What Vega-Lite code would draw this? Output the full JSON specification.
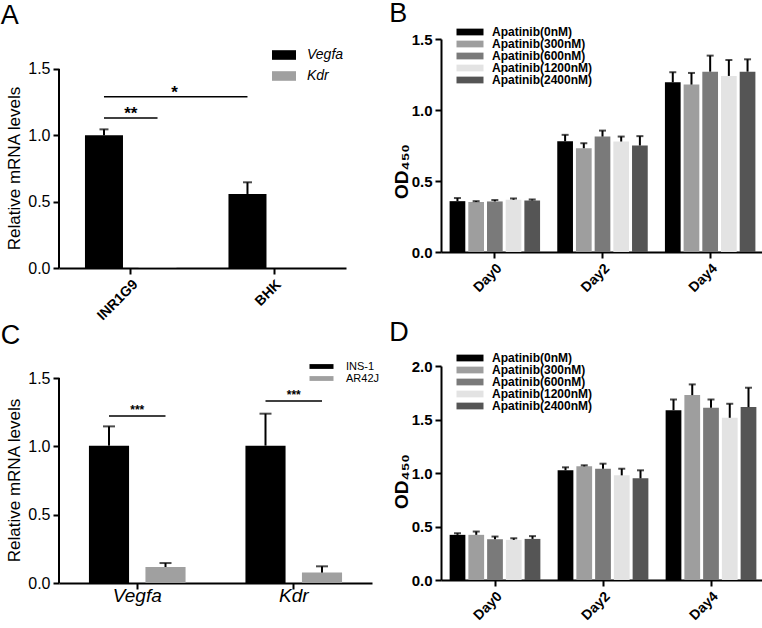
{
  "$schema": "https://vega.github.io/schema/vega-lite/v6.json",
  "background": "white",
  "padding": {"left": 0, "top": 0, "right": 0, "bottom": 0},
  "config": {
    "font": "Liberation Sans",
    "view": {"stroke": null},
    "axis": {"domainColor": "black", "domainWidth": 2, "tickColor": "black", "tickWidth": 2, "tickSize": 6, "labelColor": "black", "titleColor": "black", "grid": false, "labelFont": "Liberation Sans", "titleFont": "Liberation Sans", "labelFontSize": 16, "titleFontSize": 17, "titleFontWeight": "normal", "labelPadding": 3},
    "title": {"fontSize": 27, "fontWeight": "normal", "anchor": "start", "font": "Liberation Sans", "color": "black", "frame": "bounds"},
    "legend": {"title": null, "labelColor": "black", "labelFont": "Liberation Sans", "symbolStrokeWidth": 0}
  },
  "align": "none",
  "resolve": {"scale": {"color": "independent", "xOffset": "independent", "x": "independent", "y": "independent"}, "legend": {"color": "independent"}},
  "spacing": 9,
  "hconcat": [
    {
      "spacing": -1,
      "align": "none",
      "resolve": {"scale": {"color": "independent", "xOffset": "independent", "x": "independent", "y": "independent"}, "legend": {"color": "independent"}},
      "vconcat": [
        {
          "width": 287, "height": 229,
          "title": {"text": "A", "offset": 9, "dx": -5},
          "data": {"values": [
            {"cell": "INR1G9", "gene": "Vegfa", "v": 1.0, "e": 1.045},
            {"cell": "INR1G9", "gene": "Kdr", "v": 0.006, "e": null},
            {"cell": "BHK", "gene": "Vegfa", "v": 0.558, "e": 0.646},
            {"cell": "BHK", "gene": "Kdr", "v": 0.0, "e": null}
          ]},
          "encoding": {
            "x": {"field": "cell", "type": "nominal", "sort": ["INR1G9", "BHK"], "scale": {"paddingInner": 0, "paddingOuter": 0}, "axis": {"title": null, "labelAngle": -45, "labelFontWeight": "bold", "labelFontSize": 14, "labelAlign": "right", "labelBaseline": "top"}},
            "xOffset": {"field": "gene", "type": "nominal", "sort": ["Vegfa", "Kdr"], "scale": {"domain": ["Vegfa", "Kdr"], "paddingInner": 0.29, "paddingOuter": 0.485}}
          },
          "layer": [
            {
              "mark": {"type": "bar"},
              "encoding": {
                "y": {"field": "v", "type": "quantitative", "scale": {"domain": [0, 1.7261], "nice": false}, "axis": {"title": "Relative mRNA levels", "titleY": 129, "domain": false, "values": [0, 0.5, 1, 1.5], "format": ".1f"}},
                "color": {"field": "gene", "type": "nominal", "scale": {"domain": ["Vegfa", "Kdr"], "range": ["#000000", "#a0a0a0"]}, "legend": {"orient": "none", "legendX": 218, "legendY": 9, "labelFontStyle": "italic", "labelFontSize": 14, "symbolType": "M-3,-1.2H3V1.2H-3Z", "symbolSize": 64, "rowPadding": 7, "labelOffset": 16}}
              }
            },
            {
              "data": {"values": [{"lo": 0, "hi": 1.5}]},
              "mark": {"type": "rule", "color": "black", "strokeWidth": 2},
              "encoding": {"x": {"datum": "INR1G9", "type": "nominal", "bandPosition": 0}, "xOffset": null, "y": {"field": "lo", "type": "quantitative"}, "y2": {"field": "hi"}}
            },
            {
              "transform": [{"filter": "datum.e != null"}],
              "mark": {"type": "rule", "color": "black", "strokeWidth": 2},
              "encoding": {"y": {"field": "v", "type": "quantitative"}, "y2": {"field": "e"}}
            },
            {
              "transform": [{"filter": "datum.e != null"}],
              "mark": {"type": "tick", "color": "black", "thickness": 2, "size": 9},
              "encoding": {"y": {"field": "e", "type": "quantitative"}}
            },
            {
              "data": {"values": [
                {"id": "s1", "cell": "INR1G9", "gene": "Vegfa", "y": 1.13},
                {"id": "s1", "cell": "INR1G9", "gene": "Kdr", "y": 1.13},
                {"id": "s2", "cell": "INR1G9", "gene": "Vegfa", "y": 1.29},
                {"id": "s2", "cell": "BHK", "gene": "Vegfa", "y": 1.29}
              ]},
              "mark": {"type": "line", "color": "black", "strokeWidth": 1.5},
              "encoding": {"y": {"field": "y", "type": "quantitative"}, "detail": {"field": "id"}}
            },
            {
              "data": {"values": [{"cell": "INR1G9", "y": 1.13, "t": "**"}]},
              "mark": {"type": "text", "fontSize": 17, "fontWeight": "bold", "baseline": "alphabetic", "color": "black", "dy": 1},
              "encoding": {"x": {"field": "cell", "type": "nominal"}, "xOffset": null, "y": {"field": "y", "type": "quantitative"}, "text": {"field": "t"}}
            },
            {
              "data": {"values": [{"cell": "BHK", "y": 1.29, "t": "*"}]},
              "mark": {"type": "text", "fontSize": 17, "fontWeight": "bold", "baseline": "alphabetic", "color": "black", "dx": -28, "dy": 1},
              "encoding": {"x": {"field": "cell", "type": "nominal", "bandPosition": 0}, "xOffset": null, "y": {"field": "y", "type": "quantitative"}, "text": {"field": "t"}}
            }
          ]
        },
        {
          "width": 313, "height": 215,
          "title": {"text": "C", "offset": 11, "dx": -5},
          "data": {"values": [
            {"gene": "Vegfa", "cell": "INS-1", "v": 1.005, "e": 1.146},
            {"gene": "Vegfa", "cell": "AR42J", "v": 0.117, "e": 0.146},
            {"gene": "Kdr", "cell": "INS-1", "v": 1.005, "e": 1.239},
            {"gene": "Kdr", "cell": "AR42J", "v": 0.076, "e": 0.122}
          ]},
          "encoding": {
            "x": {"field": "gene", "type": "nominal", "sort": ["Vegfa", "Kdr"], "scale": {"paddingInner": 0, "paddingOuter": 0}, "axis": {"title": null, "labelAngle": 0, "labelFontStyle": "italic", "labelFontSize": 19, "labelPadding": -3}},
            "xOffset": {"field": "cell", "type": "nominal", "sort": ["INS-1", "AR42J"], "scale": {"domain": ["INS-1", "AR42J"], "paddingInner": 0.29, "paddingOuter": 0.53}}
          },
          "layer": [
            {
              "mark": {"type": "bar"},
              "encoding": {
                "y": {"field": "v", "type": "quantitative", "scale": {"domain": [0, 1.5732], "nice": false}, "axis": {"title": "Relative mRNA levels", "titleY": 112, "domain": false, "values": [0, 0.5, 1, 1.5], "format": ".1f"}},
                "color": {"field": "cell", "type": "nominal", "scale": {"domain": ["INS-1", "AR42J"], "range": ["#000000", "#a0a0a0"]}, "legend": {"orient": "none", "legendX": 257, "legendY": -7, "labelFontSize": 11, "symbolType": "M-3,-0.6H3V0.6H-3Z", "symbolSize": 64, "rowPadding": 0, "labelOffset": 19}}
              }
            },
            {
              "data": {"values": [{"lo": 0, "hi": 1.5}]},
              "mark": {"type": "rule", "color": "black", "strokeWidth": 2},
              "encoding": {"x": {"datum": "Vegfa", "type": "nominal", "bandPosition": 0}, "xOffset": null, "y": {"field": "lo", "type": "quantitative"}, "y2": {"field": "hi"}}
            },
            {
              "mark": {"type": "rule", "color": "black", "strokeWidth": 2},
              "encoding": {"y": {"field": "v", "type": "quantitative"}, "y2": {"field": "e"}}
            },
            {
              "mark": {"type": "tick", "color": "black", "thickness": 2, "size": 12},
              "encoding": {"y": {"field": "e", "type": "quantitative"}}
            },
            {
              "data": {"values": [
                {"id": "s1", "gene": "Vegfa", "cell": "INS-1", "y": 1.222},
                {"id": "s1", "gene": "Vegfa", "cell": "AR42J", "y": 1.222},
                {"id": "s2", "gene": "Kdr", "cell": "INS-1", "y": 1.331},
                {"id": "s2", "gene": "Kdr", "cell": "AR42J", "y": 1.331}
              ]},
              "mark": {"type": "line", "color": "black", "strokeWidth": 1.5},
              "encoding": {"y": {"field": "y", "type": "quantitative"}, "detail": {"field": "id"}}
            },
            {
              "data": {"values": [{"gene": "Vegfa", "y": 1.222, "t": "***"}, {"gene": "Kdr", "y": 1.331, "t": "***"}]},
              "mark": {"type": "text", "fontSize": 12, "fontWeight": "bold", "baseline": "alphabetic", "color": "black", "dy": -2},
              "encoding": {"xOffset": null, "y": {"field": "y", "type": "quantitative"}, "text": {"field": "t"}}
            }
          ]
        }
      ]
    },
    {
      "spacing": 24,
      "align": "none",
      "resolve": {"scale": {"color": "independent", "xOffset": "independent", "x": "independent", "y": "independent"}, "legend": {"color": "independent"}},
      "vconcat": [
        {
          "width": 323, "height": 213,
          "title": {"text": "B", "offset": -2, "dx": -3},
          "data": {"values": [
            {"day": "Day0", "c": "Apatinib(0nM)", "v": 0.358, "e": 0.38},
            {"day": "Day0", "c": "Apatinib(300nM)", "v": 0.352, "e": 0.358},
            {"day": "Day0", "c": "Apatinib(600nM)", "v": 0.356, "e": 0.366},
            {"day": "Day0", "c": "Apatinib(1200nM)", "v": 0.368, "e": 0.377},
            {"day": "Day0", "c": "Apatinib(2400nM)", "v": 0.363, "e": 0.37},
            {"day": "Day2", "c": "Apatinib(0nM)", "v": 0.78, "e": 0.825},
            {"day": "Day2", "c": "Apatinib(300nM)", "v": 0.731, "e": 0.766},
            {"day": "Day2", "c": "Apatinib(600nM)", "v": 0.813, "e": 0.855},
            {"day": "Day2", "c": "Apatinib(1200nM)", "v": 0.778, "e": 0.813},
            {"day": "Day2", "c": "Apatinib(2400nM)", "v": 0.75, "e": 0.816},
            {"day": "Day4", "c": "Apatinib(0nM)", "v": 1.195, "e": 1.266},
            {"day": "Day4", "c": "Apatinib(300nM)", "v": 1.179, "e": 1.261},
            {"day": "Day4", "c": "Apatinib(600nM)", "v": 1.27, "e": 1.383},
            {"day": "Day4", "c": "Apatinib(1200nM)", "v": 1.24, "e": 1.352},
            {"day": "Day4", "c": "Apatinib(2400nM)", "v": 1.27, "e": 1.357}
          ]},
          "encoding": {
            "x": {"field": "day", "type": "nominal", "scale": {"paddingInner": 0, "paddingOuter": 0}, "axis": {"title": null, "labelAngle": -45, "labelFontWeight": "bold", "labelFontSize": 14, "labelAlign": "right", "labelBaseline": "top"}},
            "xOffset": {"field": "c", "type": "nominal", "sort": ["Apatinib(0nM)", "Apatinib(300nM)", "Apatinib(600nM)", "Apatinib(1200nM)", "Apatinib(2400nM)"], "scale": {"domain": ["Apatinib(0nM)", "Apatinib(300nM)", "Apatinib(600nM)", "Apatinib(1200nM)", "Apatinib(2400nM)"], "paddingInner": 0.16, "paddingOuter": 0.46}}
          },
          "layer": [
            {
              "mark": {"type": "bar"},
              "encoding": {
                "y": {"field": "v", "type": "quantitative", "scale": {"domain": [0, 1.5], "nice": false}, "axis": {"title": "OD₄₅₀", "titleY": 132, "titlePadding": 0, "titleFontWeight": "bold", "titleFontSize": 19, "labelFontWeight": "bold", "labelFontSize": 15, "values": [0, 0.5, 1, 1.5], "format": ".1f"}},
                "color": {"field": "c", "type": "nominal", "scale": {"domain": ["Apatinib(0nM)", "Apatinib(300nM)", "Apatinib(600nM)", "Apatinib(1200nM)", "Apatinib(2400nM)"], "range": ["#000000", "#9e9e9e", "#7a7a7a", "#e3e3e3", "#555555"]}, "legend": {"orient": "none", "legendX": 23, "legendY": -13, "labelFontSize": 12, "labelFontWeight": "bold", "symbolType": "M-3,-0.75H3V0.75H-3Z", "symbolSize": 81, "rowPadding": 0, "labelOffset": 16}}
              }
            },
            {
              "mark": {"type": "rule", "color": "black", "strokeWidth": 2},
              "encoding": {"y": {"field": "v", "type": "quantitative"}, "y2": {"field": "e"}}
            },
            {
              "mark": {"type": "tick", "color": "black", "thickness": 2, "size": 7},
              "encoding": {"y": {"field": "e", "type": "quantitative"}}
            }
          ]
        },
        {
          "width": 324, "height": 214,
          "title": {"text": "D", "offset": 5, "dx": -3},
          "data": {"values": [
            {"day": "Day0", "c": "Apatinib(0nM)", "v": 0.422, "e": 0.437},
            {"day": "Day0", "c": "Apatinib(300nM)", "v": 0.422, "e": 0.453},
            {"day": "Day0", "c": "Apatinib(600nM)", "v": 0.381, "e": 0.406},
            {"day": "Day0", "c": "Apatinib(1200nM)", "v": 0.375, "e": 0.39},
            {"day": "Day0", "c": "Apatinib(2400nM)", "v": 0.384, "e": 0.41},
            {"day": "Day2", "c": "Apatinib(0nM)", "v": 1.025, "e": 1.053},
            {"day": "Day2", "c": "Apatinib(300nM)", "v": 1.062, "e": 1.072},
            {"day": "Day2", "c": "Apatinib(600nM)", "v": 1.04, "e": 1.087},
            {"day": "Day2", "c": "Apatinib(1200nM)", "v": 0.978, "e": 1.04},
            {"day": "Day2", "c": "Apatinib(2400nM)", "v": 0.95, "e": 1.025},
            {"day": "Day4", "c": "Apatinib(0nM)", "v": 1.587, "e": 1.687},
            {"day": "Day4", "c": "Apatinib(300nM)", "v": 1.728, "e": 1.828},
            {"day": "Day4", "c": "Apatinib(600nM)", "v": 1.61, "e": 1.687},
            {"day": "Day4", "c": "Apatinib(1200nM)", "v": 1.516, "e": 1.647},
            {"day": "Day4", "c": "Apatinib(2400nM)", "v": 1.616, "e": 1.797}
          ]},
          "encoding": {
            "x": {"field": "day", "type": "nominal", "scale": {"paddingInner": 0, "paddingOuter": 0}, "axis": {"title": null, "labelAngle": -45, "labelFontWeight": "bold", "labelFontSize": 14, "labelAlign": "right", "labelBaseline": "top"}},
            "xOffset": {"field": "c", "type": "nominal", "sort": ["Apatinib(0nM)", "Apatinib(300nM)", "Apatinib(600nM)", "Apatinib(1200nM)", "Apatinib(2400nM)"], "scale": {"domain": ["Apatinib(0nM)", "Apatinib(300nM)", "Apatinib(600nM)", "Apatinib(1200nM)", "Apatinib(2400nM)"], "paddingInner": 0.16, "paddingOuter": 0.46}}
          },
          "layer": [
            {
              "mark": {"type": "bar"},
              "encoding": {
                "y": {"field": "v", "type": "quantitative", "scale": {"domain": [0, 2], "nice": false}, "axis": {"title": "OD₄₅₀", "titleY": 115, "titlePadding": 0, "titleFontWeight": "bold", "titleFontSize": 19, "labelFontWeight": "bold", "labelFontSize": 15, "values": [0, 0.5, 1, 1.5, 2], "format": ".1f"}},
                "color": {"field": "c", "type": "nominal", "scale": {"domain": ["Apatinib(0nM)", "Apatinib(300nM)", "Apatinib(600nM)", "Apatinib(1200nM)", "Apatinib(2400nM)"], "range": ["#000000", "#9e9e9e", "#7a7a7a", "#e3e3e3", "#555555"]}, "legend": {"orient": "none", "legendX": 23, "legendY": -14, "labelFontSize": 12, "labelFontWeight": "bold", "symbolType": "M-3,-0.75H3V0.75H-3Z", "symbolSize": 81, "rowPadding": 0, "labelOffset": 16}}
              }
            },
            {
              "mark": {"type": "rule", "color": "black", "strokeWidth": 2},
              "encoding": {"y": {"field": "v", "type": "quantitative"}, "y2": {"field": "e"}}
            },
            {
              "mark": {"type": "tick", "color": "black", "thickness": 2, "size": 7},
              "encoding": {"y": {"field": "e", "type": "quantitative"}}
            }
          ]
        }
      ]
    }
  ]
}
